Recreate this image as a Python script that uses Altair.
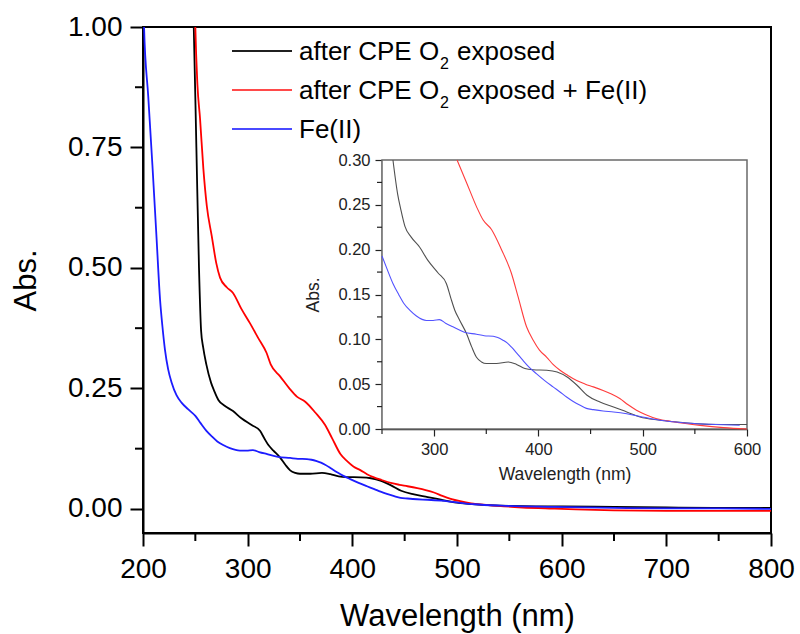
import altair as alt
import pandas as pd

# ---------------- data ----------------
SERIES = ["after CPE O2 exposed", "after CPE O2 exposed + Fe(II)", "Fe(II)"]

black_wl = [247, 248.5, 251, 253.5, 255.5, 257.5, 260.5, 265, 268, 272, 278, 286, 294,
            303.8, 311.8, 316, 319.8, 324.6, 331, 336, 340.6, 345.4, 350, 359.8, 371,
            379, 387, 395, 408, 417.9, 427.5, 437, 446.6, 459, 472, 484.7, 497.5, 515,
            530, 550, 575, 600, 650, 700, 750, 800]
black_abs = [1.10, 1.00, 0.75, 0.50, 0.37, 0.335, 0.30, 0.262, 0.245, 0.226, 0.214, 0.203,
             0.188, 0.174, 0.162, 0.146, 0.1325, 0.121, 0.1065, 0.0916, 0.080, 0.0748,
             0.073, 0.073, 0.0748, 0.072, 0.0674, 0.066, 0.0655, 0.0636, 0.058, 0.0488,
             0.0376, 0.030, 0.0246, 0.019, 0.0134, 0.010, 0.008, 0.006, 0.005, 0.005,
             0.004, 0.003, 0.002, 0.002]

red_wl = [249.5, 250, 252, 254.5, 257.7, 261, 265.7, 270, 273.6, 280, 286, 294, 302, 310,
          318, 322, 331, 340.6, 347, 355, 364.6, 374, 380.6, 388.6, 395, 401, 408, 414,
          420.7, 428, 436.7, 445, 452.7, 462, 470, 478, 486, 494, 503, 513.5, 529.5, 555,
          577.6, 600, 650, 700, 750, 800]
red_abs = [1.05, 1.00, 0.88, 0.81, 0.705, 0.628, 0.566, 0.51, 0.48, 0.46, 0.448, 0.415,
           0.386, 0.355, 0.324, 0.30, 0.275, 0.248, 0.233, 0.2225, 0.20, 0.174, 0.147,
           0.114, 0.099, 0.088, 0.080, 0.072, 0.0655, 0.060, 0.054, 0.050, 0.047, 0.043,
           0.039, 0.034, 0.027, 0.021, 0.016, 0.0115, 0.008, 0.004, 0.0015, 0.0, -0.003,
           -0.004, -0.004, -0.004]

blue_wl = [200, 201, 205, 209, 213, 216.3, 218.5, 221, 224, 227.4, 232, 237, 243, 250, 255,
           260.6, 266, 271, 276.6, 283, 292.6, 299, 305, 311, 318, 329, 340.6, 348, 356.6,
           361, 366, 370, 374, 379, 385, 391, 398, 406, 414, 421, 427, 433, 440, 446,
           452.7, 462, 472, 484.7, 497.5, 516.7, 542, 593, 650, 700, 750, 800]
blue_abs = [1.10, 1.00, 0.856, 0.713, 0.56, 0.434, 0.38, 0.33, 0.29, 0.262, 0.236, 0.22,
            0.207, 0.193, 0.178, 0.162, 0.150, 0.140, 0.1325, 0.126, 0.121, 0.121, 0.122,
            0.118, 0.114, 0.108, 0.1057, 0.104, 0.1035, 0.102, 0.099, 0.096, 0.0915, 0.085,
            0.0767, 0.069, 0.0618, 0.054, 0.047, 0.041, 0.0357, 0.031, 0.0264, 0.023,
            0.0216, 0.020, 0.019, 0.017, 0.014, 0.0097, 0.0067, 0.0041, 0.002, 0.001,
            0.001, 0.0]

x_major = [200, 300, 400, 500, 600, 700, 800]
x_minor = [250, 350, 450, 550, 650, 750]
y_major = [0.0, 0.25, 0.5, 0.75, 1.0]
y_minor = [0.125, 0.375, 0.625, 0.875]
inset_x_major = [300, 400, 500, 600]
inset_x_minor = [250, 350, 450, 550]
inset_y_major = [0.0, 0.05, 0.10, 0.15, 0.20, 0.25, 0.30]
inset_y_minor = [0.025, 0.075, 0.125, 0.175, 0.225, 0.275]

MAIN_COLORS = ["#000000", "#ff0000", "#1c1cff"]
INSET_COLORS = ["#505050", "#ff3c3c", "#5252ff"]
LEGEND_COLORS = ["#202020", "#ff4a4a", "#4a4aff"]

# ---------------- build table ----------------
rows = []
for name, wls, vals in [(SERIES[0], black_wl, black_abs),
                        (SERIES[1], red_wl, red_abs),
                        (SERIES[2], blue_wl, blue_abs)]:
    for w, a in zip(wls, vals):
        rows.append({"series": name, "wl": w, "abs": a})
df = pd.DataFrame(rows)

FONT = "Liberation Sans"
W, H = 628, 506

# ---------------- main plot ----------------
xs = alt.Scale(domain=[200, 800], nice=False, zero=False)
ys = alt.Scale(domain=[-0.05, 1.0], nice=False, zero=False)

main_lines = alt.Chart(df).mark_line(strokeWidth=1.8, clip=True, interpolate="monotone").encode(
    x=alt.X("wl:Q", scale=xs, axis=alt.Axis(
        values=x_major, format="d", title="Wavelength (nm)", grid=False, orient="bottom",
        labelFlush=False, labelOverlap=False,
        tickSize=13, tickWidth=2, tickColor="black", domainColor="black", domainWidth=2,
        labelFont=FONT, labelFontSize=28, labelColor="black", labelPadding=9,
        titleFont=FONT, titleFontSize=31, titleFontWeight="normal", titleColor="black",
        titlePadding=18)),
    y=alt.Y("abs:Q", scale=ys, axis=alt.Axis(
        values=y_major, format=".2f", title="Abs.", grid=False, orient="left",
        labelFlush=False, labelOverlap=False,
        tickSize=13, tickWidth=2, tickColor="black", domainColor="black", domainWidth=2,
        labelFont=FONT, labelFontSize=28, labelColor="black", labelPadding=8,
        titleFont=FONT, titleFontSize=31, titleFontWeight="normal", titleColor="black",
        titlePadding=25)),
    color=alt.Color("series:N", scale=alt.Scale(domain=SERIES, range=MAIN_COLORS), legend=None),
)

main_minor_x = alt.Chart(pd.DataFrame({"v": x_minor})).mark_rule(
    color="black", strokeWidth=2).encode(
    x=alt.X("v:Q", scale=xs, axis=None), y=alt.value(H), y2=alt.value(H + 8))
main_minor_y = alt.Chart(pd.DataFrame({"v": y_minor})).mark_rule(
    color="black", strokeWidth=2).encode(
    y=alt.Y("v:Q", scale=ys, axis=None), x=alt.value(0), x2=alt.value(-8))

# ---------------- inset ----------------
IX0, IX1, IY0, IY1 = 239, 604, 133, 402
ixs = alt.Scale(domain=[250, 600], range=[IX0, IX1], nice=False, zero=False)
iys = alt.Scale(domain=[0, 0.30], range=[IY1, IY0], nice=False, zero=False)

inset_frame = alt.Chart(pd.DataFrame({"a": [0]})).mark_rect(
    fill="white", stroke="#6a6a6a", strokeWidth=1.5).encode(
    x=alt.value(IX0), x2=alt.value(IX1), y=alt.value(IY0), y2=alt.value(IY1))

inset_lines = alt.Chart(df).transform_filter(
    "datum.wl >= 250 && datum.wl <= 600 && datum.abs <= 0.3"
).mark_line(strokeWidth=1.1, interpolate="monotone").encode(
    x=alt.X("wl:Q", scale=ixs, axis=alt.Axis(
        values=inset_x_major, format="d", title="Wavelength (nm)", grid=False,
        orient="bottom", offset=-(H - IY1), labelFlush=False, labelOverlap=False,
        tickSize=7, tickWidth=1.2, tickColor="#222", domainColor="#222", domainWidth=1.5,
        labelFont=FONT, labelFontSize=16.5, labelColor="#222", labelPadding=5,
        titleFont=FONT, titleFontSize=17.5, titleFontWeight="normal", titleColor="#222",
        titlePadding=8)),
    y=alt.Y("abs:Q", scale=iys, axis=alt.Axis(
        values=inset_y_major, format=".2f", title="Abs.", grid=False,
        orient="left", offset=-IX0, labelFlush=False, labelOverlap=False,
        tickSize=7, tickWidth=1.2, tickColor="#222", domainColor="#222", domainWidth=1.5,
        labelFont=FONT, labelFontSize=16.5, labelColor="#222", labelPadding=5,
        titleFont=FONT, titleFontSize=17.5, titleFontWeight="normal", titleColor="#222",
        titlePadding=15)),
    color=alt.Color("series:N", scale=alt.Scale(domain=SERIES, range=INSET_COLORS), legend=None),
)

inset_minor_x = alt.Chart(pd.DataFrame({"v": inset_x_minor})).mark_rule(
    color="#222", strokeWidth=1.2).encode(
    x=alt.X("v:Q", scale=ixs, axis=None), y=alt.value(IY1), y2=alt.value(IY1 + 5))
inset_minor_y = alt.Chart(pd.DataFrame({"v": inset_y_minor})).mark_rule(
    color="#222", strokeWidth=1.2).encode(
    y=alt.Y("v:Q", scale=iys, axis=None), x=alt.value(IX0), x2=alt.value(IX0 - 5))

# ---------------- legend ----------------
one = pd.DataFrame({"a": [0]})
LEG_LINE_X0, LEG_LINE_X1 = 89, 149
LEG_TEXT_X = 156
LEG_BASE = [33, 72, 111]
legend_layers = []
for i, name in enumerate(SERIES):
    base = LEG_BASE[i]
    legend_layers.append(alt.Chart(one).mark_rule(color=LEGEND_COLORS[i], strokeWidth=2).encode(
        x=alt.value(LEG_LINE_X0), x2=alt.value(LEG_LINE_X1), y=alt.value(base - 9)))
    if name.startswith("after CPE O2"):
        pieces = [("after CPE O", LEG_TEXT_X, base, 26),
                  ("2", 297, base + 9, 16),
                  (name.replace("after CPE O2 ", ""), 314, base, 26)]
    else:
        pieces = [(name, LEG_TEXT_X, base, 26)]
    for txt, px, py, fs in pieces:
        legend_layers.append(alt.Chart(one).mark_text(
            align="left", baseline="alphabetic", font=FONT, fontSize=fs, color="black").encode(
            x=alt.value(px), y=alt.value(py), text=alt.value(txt)))

chart = alt.layer(
    main_lines, main_minor_x, main_minor_y,
    inset_frame, inset_lines, inset_minor_x, inset_minor_y,
    *legend_layers
).resolve_scale(
    x="independent", y="independent", color="independent"
).properties(
    width=W, height=H, background="white",
    autosize=alt.AutoSizeParams(type="none"),
    padding={"left": 143, "top": 27, "right": 29, "bottom": 101},
).configure_view(stroke="black", strokeWidth=2)

chart.save("out.html", embed_options={"renderer": "svg", "actions": False})
